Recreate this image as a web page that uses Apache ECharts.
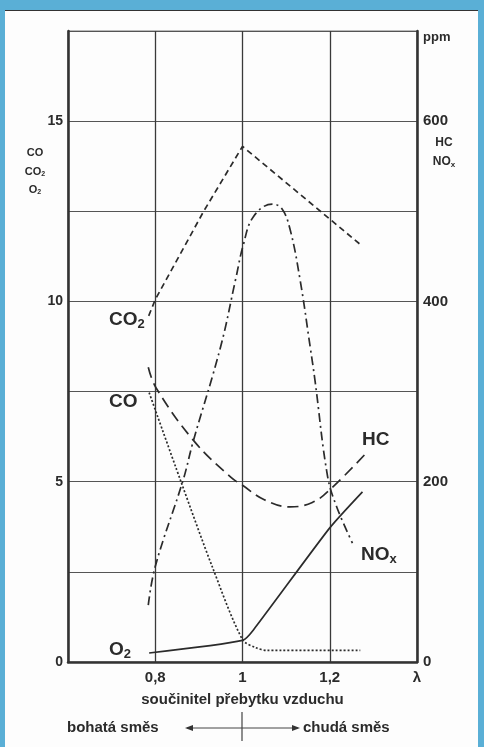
<!DOCTYPE html>
<html>
<head>
<meta charset="utf-8">
<script src="https://cdn.jsdelivr.net/npm/echarts@6/dist/echarts.min.js"></script>
<style>
html,body{margin:0;padding:0;background:#5aafd6;}
#frame{position:absolute;left:5px;top:10px;width:473px;height:737px;background:#fdfdfd;border-top:1px solid #333;box-sizing:border-box;}
#chart{position:absolute;left:0;top:0;width:484px;height:747px;}
</style>
</head>
<body>
<div id="frame"></div>
<div id="chart"></div>
<script>
// lambda vs. concentration
var co2 = [[0.785,9.6],[0.8,10.05],[0.911,12.5],[1.0,14.3],[1.268,11.6]];       // %
var co  = [[0.786,7.47],[0.859,5.0],[0.932,2.6],[1.0,0.62],[1.03,0.4],[1.057,0.32],[1.27,0.32]]; // %
var o2  = [[0.786,0.25],[1.0,0.6],[1.025,0.89],[1.2,3.72],[1.275,4.72]];         // %
var hc  = [[0.784,327],[0.802,304],[0.889,245],[0.973,205],[1.0,196],[1.05,180],[1.109,172],[1.16,177],[1.2,191],[1.284,232]]; // ppm
var nox = [[0.784,63],[0.8,106],[0.864,202],[0.886,243],[0.95,350],[0.984,424],[1.002,463],[1.025,494],[1.068,508],[1.09,503],[1.109,480],[1.132,424],[1.155,350],[1.166,313],[1.195,206],[1.216,172],[1.252,132]]; // ppm

var xTicks = {'0.8':'0,8','1':'1','1.2':'1,2','1.4':'λ'};
var leftTicks = [0,5,10,15];
var rightTicks = [0,200,400,600];

var ink = '#2b2b2b';
var font = 'Liberation Sans';

var chart = echarts.init(document.getElementById('chart'));

function curve(name, data, axis, dash, smooth){
	return {
		name:name, type:'line', yAxisIndex:axis, data:data,
		showSymbol:false, smooth:smooth, silent:true,
		lineStyle:{color:ink, width:1.7, type:dash}
	};
}

function sub(x, y, base, s, align, big, small, drop){
	return {
		type:'text', x:x, y:y,
		style:{text:'{b|'+base+'}{s|'+s+'}', align:align||'left', verticalAlign:'middle',
			rich:{b:{font:'bold '+big+'px '+font, fill:ink}, s:{font:'bold '+small+'px '+font, fill:ink, padding:[drop,0,0,0]}}}
	};
}

function txt(x, y, t, size, align){
	return {type:'text', x:x, y:y,
		style:{text:t, font:'bold '+size+'px '+font, fill:ink, align:align||'left', verticalAlign:'middle'}};
}

option = {
	animation:false,
	grid:{left:68, right:67, top:31, bottom:85, show:true, borderColor:'#777', borderWidth:1},
	xAxis:{
		type:'value', min:0.6, max:1.4, interval:0.2,
		name:'součinitel přebytku vzduchu', nameLocation:'middle', nameGap:30,
		nameTextStyle:{fontFamily:font, fontWeight:'bold', fontSize:15, color:ink},
		axisLine:{show:true, onZero:false, lineStyle:{color:'#333', width:2.5}},
		axisTick:{show:false},
		axisLabel:{margin:8, fontFamily:font, fontWeight:'bold', fontSize:15, color:ink,
			formatter:function(v){ var k = String(Math.round(v*10)/10); return xTicks[k] || ''; }},
		splitLine:{show:true, lineStyle:{color:'#3a3a3a', width:1.3}}
	},
	yAxis:[{
		type:'value', min:0, max:17.5, interval:2.5, position:'left',
		axisLine:{show:true, lineStyle:{color:'#333', width:2.5}},
		axisTick:{show:false},
		axisLabel:{margin:5, fontFamily:font, fontWeight:'bold', fontSize:14, color:ink,
			formatter:function(v){ return leftTicks.indexOf(v) >= 0 ? String(v) : ''; }},
		splitLine:{show:true, lineStyle:{color:'#555', width:1.2}}
	},{
		type:'value', min:0, max:700, interval:100, position:'right',
		axisLine:{show:true, lineStyle:{color:'#333', width:2.5}},
		axisTick:{show:false},
		axisLabel:{margin:6, fontFamily:font, fontWeight:'bold', fontSize:15, color:ink,
			formatter:function(v){ return rightTicks.indexOf(v) >= 0 ? String(v) : ''; }},
		splitLine:{show:false}
	}],
	series:[
		curve('CO2', co2, 0, [6,4], false),
		curve('CO', co, 0, [2,2], 0.3),
		curve('O2', o2, 0, 'solid', 0.2),
		curve('HC', hc, 1, [11,6], 0.4),
		curve('NOx', nox, 1, [9,4,2,4], 0.4)
	],
	graphic:[
		// axis captions
		txt(35, 153, 'CO', 11, 'center'),
		sub(35, 172, 'CO', '2', 'center', 11, 7, 5),
		sub(35, 190, 'O', '2', 'center', 11, 7, 5),
		txt(423, 37, 'ppm', 13),
		txt(444, 143, 'HC', 12, 'center'),
		sub(444, 162, 'NO', 'x', 'center', 12, 8, 5),
		// curve names
		sub(109, 320, 'CO', '2', 'left', 19, 13, 9),
		txt(109, 402, 'CO', 19),
		txt(362, 440, 'HC', 19),
		sub(361, 555, 'NO', 'x', 'left', 19, 13, 9),
		sub(109, 650, 'O', '2', 'left', 19, 13, 9),
		// rich / lean mixture arrow
		txt(67, 728, 'bohatá směs', 15),
		txt(303, 728, 'chudá směs', 15),
		{type:'line', shape:{x1:187, y1:728, x2:298, y2:728}, style:{stroke:'#444', lineWidth:1}},
		{type:'line', shape:{x1:242, y1:712, x2:242, y2:741}, style:{stroke:'#444', lineWidth:1.2}},
		{type:'polygon', shape:{points:[[185,728],[193,725],[193,731]]}, style:{fill:'#333'}},
		{type:'polygon', shape:{points:[[300,728],[292,725],[292,731]]}, style:{fill:'#333'}}
	]
};

chart.setOption(option);
</script>
</body>
</html>
